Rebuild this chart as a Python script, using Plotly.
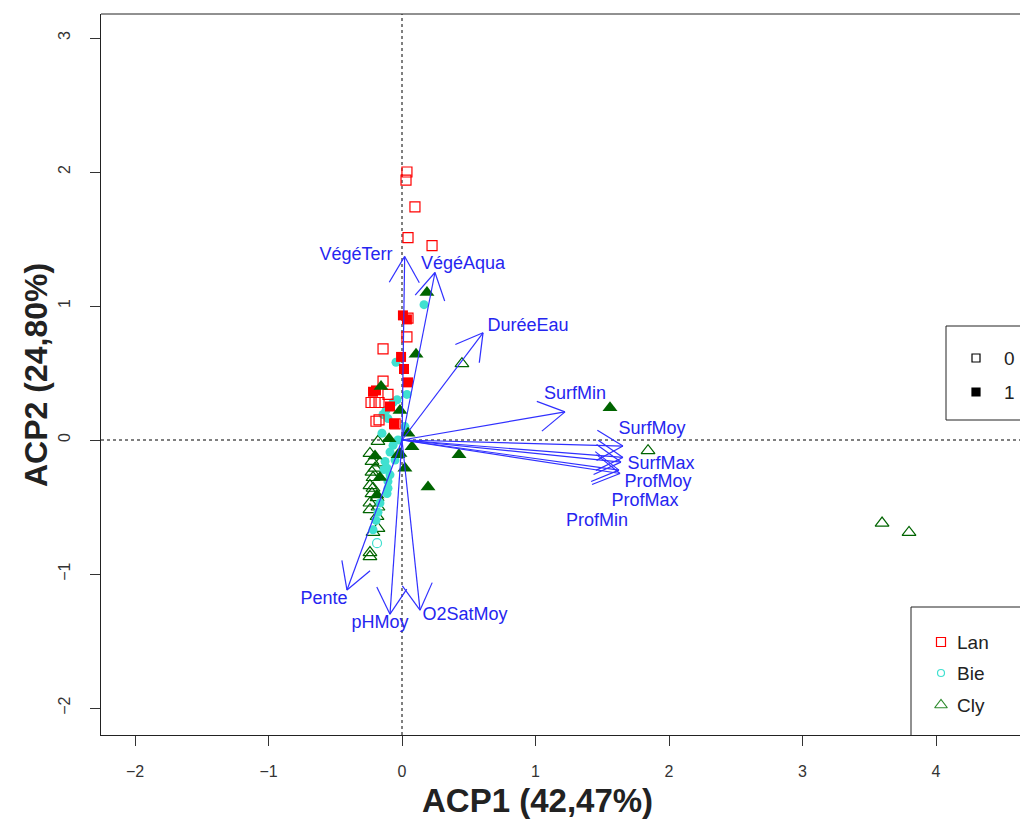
import numpy as np
import plotly.graph_objects as go

# ---------------- data (ACP scores) ----------------
lan_open_x = [0.037, 0.030, 0.097, 0.045, 0.225, 0.045, 0.037, -0.142, -0.142, -0.105,
              -0.232, -0.202, -0.172, -0.195, -0.172, -0.052]
lan_open_y = [2.00, 1.94, 1.74, 1.51, 1.45, 0.91, 0.77, 0.68, 0.44, 0.34,
              0.28, 0.28, 0.28, 0.14, 0.15, 0.12]
lan_fill_x = [0.007, 0.037, -0.007, 0.015, 0.045, -0.217, -0.195, -0.090, -0.060]
lan_fill_y = [0.93, 0.90, 0.62, 0.53, 0.43, 0.36, 0.37, 0.25, 0.12]

bie_fill_x = [0.165, -0.045, 0.037, -0.037, -0.067, -0.120, -0.142, -0.105, 0.022, -0.150,
              -0.090, -0.067, -0.127, -0.112, -0.090, -0.105, -0.105, -0.112, -0.165, -0.180,
              -0.195, -0.217, -0.052, -0.030, -0.135]
bie_fill_y = [1.01, 0.58, 0.34, 0.30, 0.28, 0.22, 0.19, 0.16, 0.10, 0.05,
              -0.09, -0.04, -0.16, -0.21, -0.26, -0.31, -0.36, -0.40, -0.47, -0.54,
              -0.60, -0.67, -0.15, 0.00, -0.22]
bie_open_x = [-0.187]
bie_open_y = [-0.77]

cly_fill_x = [0.187, 0.105, -0.157, -0.015, 0.045, -0.097, 0.075, -0.015, -0.202, 0.022,
              0.195, -0.165, -0.187, 1.558, 0.427, -0.030]
cly_fill_y = [1.10, 0.64, 0.40, 0.22, 0.05, 0.01, -0.05, -0.10, -0.12, -0.21,
              -0.35, -0.28, -0.41, 0.24, -0.11, -0.11]
cly_open_x = [0.449, 1.843, 3.596, 3.798, -0.180, -0.240, -0.225, -0.202, -0.225, -0.217,
              -0.240, -0.217, -0.225, -0.187, -0.240, -0.180, -0.240, -0.187, -0.180, -0.217,
              -0.240, -0.240, -0.165]
cly_open_y = [0.57, -0.08, -0.62, -0.69, -0.01, -0.10, -0.16, -0.21, -0.24, -0.28,
              -0.34, -0.36, -0.40, -0.43, -0.47, -0.50, -0.52, -0.57, -0.66, -0.69,
              -0.84, -0.87, -0.17]

# variables (loadings, arrow tips) and label positions
var_names = ["VégéTerr", "VégéAqua", "DuréeEau", "SurfMin", "SurfMoy", "SurfMax",
             "ProfMoy", "ProfMax", "ProfMin", "Pente", "pHMoy", "O2SatMoy"]
var_x = [0.020, 0.247, 0.607, 1.221, 1.655, 1.655, 1.640, 1.633, 1.625, -0.412, -0.090, 0.135]
var_y = [1.370, 1.250, 0.800, 0.210, -0.045, -0.130, -0.165, -0.250, -0.225, -1.120, -1.300, -1.270]
lab_x = [-0.345, 0.457, 0.944, 1.296, 1.873, 1.940, 1.918, 1.820, 1.461, -0.584, -0.165, 0.472]
lab_y = [1.38, 1.31, 0.85, 0.34, 0.075, -0.18, -0.32, -0.46, -0.61, -1.19, -1.37, -1.31]

x_ticks = [-2, -1, 0, 1, 2, 3, 4]
y_ticks = [-2, -1, 0, 1, 2, 3]
x_title = "ACP1 (42,47%)"
y_title = "ACP2 (24,80%)"
group_labels = ["Lan", "Bie", "Cly"]
fill_labels = ["0", "1"]

# ---------------- styles ----------------
RED = "#FF0000"
CYAN = "#40E0D0"
GREEN = "#006400"
BLUE = "#3030FF"
FONT = "Liberation Sans, Arial, sans-serif"

OFF = 8                      # page body margin
WIN_W, WIN_H = 1028, 820
PL, PT, PB = 101, 14, 735    # plot area edges in page pixels
W, H = WIN_W - OFF, WIN_H - OFF
x0_px, xunit = 402.0, 133.5
y0_px, yunit = 440.0, 134.0
x_range = [(PL - x0_px) / xunit, (WIN_W - x0_px) / xunit]
y_range = [(y0_px - PB) / yunit, (y0_px - PT) / yunit]

def px2paper(px, py):
    return (px - PL) / (WIN_W - PL), (PB - py) / (PB - PT)

fig = go.Figure()

# legend boxes (drawn below traces, page-pixel overlay axes)
def leg_box(x0, y0, y1):
    fig.add_shape(type="rect", xref="x2", yref="y2", x0=x0, x1=WIN_W + 20, y0=y0, y1=y1,
                  line=dict(color="#222", width=1), fillcolor="white", layer="below")

leg_box(946, 326, 420)
leg_box(911, 607, 736)

def pts(x, y, symbol, color, size, lw=1.2):
    fig.add_trace(go.Scatter(
        x=x, y=y, mode="markers", showlegend=False, hoverinfo="skip",
        marker=dict(symbol=symbol, size=size, color=color,
                    line=dict(color=color, width=lw))))

pts(cly_open_x, cly_open_y, "triangle-up-open", GREEN, 12)
pts(bie_fill_x, bie_fill_y, "circle", CYAN, 9, 0)
pts(bie_open_x, bie_open_y, "circle-open", CYAN, 9)
pts(lan_open_x, lan_open_y, "square-open", RED, 10)
pts(lan_fill_x, lan_fill_y, "square", RED, 10, 0)
pts(cly_fill_x, cly_fill_y, "triangle-up", GREEN, 13, 0)

# arrows: shaft + open V head
ax_, ay_ = [], []
head_len, ang = 0.225, np.deg2rad(30)
for tx, ty in zip(var_x, var_y):
    ax_ += [0, tx, None]
    ay_ += [0, ty, None]
    th = np.arctan2(ty, tx)
    for s in (1, -1):
        ax_ += [tx, tx - head_len * np.cos(th + s * ang), None]
        ay_ += [ty, ty - head_len * np.sin(th + s * ang), None]
fig.add_trace(go.Scatter(x=ax_, y=ay_, mode="lines", showlegend=False, hoverinfo="skip",
                         line=dict(color=BLUE, width=1.2)))
fig.add_trace(go.Scatter(x=lab_x, y=lab_y, mode="text", text=var_names, showlegend=False,
                         hoverinfo="skip",
                         textfont=dict(family=FONT, size=18, color="#2525F0")))

# dotted reference lines
fig.add_shape(type="line", xref="x", yref="paper", x0=0, x1=0, y0=0, y1=1,
              line=dict(color="black", width=1, dash="dot"), layer="below")
fig.add_shape(type="line", xref="paper", yref="y", x0=0, x1=1.05, y0=0, y1=0,
              line=dict(color="black", width=1, dash="dot"), layer="below")
# top border
fig.add_shape(type="line", xref="paper", yref="paper", x0=0, x1=1.05, y0=1, y1=1,
              line=dict(color="#222", width=1))

# legend symbols and labels
leg_mx = [976, 976, 941, 941, 941]
leg_my = [358, 392, 642, 673, 705]
leg_sym = ["square-open", "square", "square-open", "circle-open", "triangle-up-open"]
leg_col = ["black", "black", RED, CYAN, "#2E8B2E"]
leg_size = [8, 8, 9, 7, 11]
for mx, my, sy, c, sz in zip(leg_mx, leg_my, leg_sym, leg_col, leg_size):
    fig.add_trace(go.Scatter(x=[mx], y=[my], xaxis="x2", yaxis="y2", mode="markers",
                             showlegend=False, hoverinfo="skip",
                             marker=dict(symbol=sy, size=sz, color=c,
                                         line=dict(color=c, width=1.2))))
leg_txt = fill_labels + group_labels
leg_tx = [1002, 1002, 955, 955, 955]
for t, tx, ty in zip(leg_txt, leg_tx, leg_my):
    fig.add_annotation(x=tx, y=ty, xref="x2", yref="y2", text=t, showarrow=False,
                       xanchor="left", yanchor="middle",
                       font=dict(family=FONT, size=19, color="#222"))

# axis titles
tx, ty = px2paper(537, 800)
fig.add_annotation(x=tx, y=ty, xref="paper", yref="paper", text="<b>" + x_title + "</b>",
                   showarrow=False, xanchor="center", yanchor="middle",
                   font=dict(family=FONT, size=33, color="#222"))
tx, ty = px2paper(36, 375)
fig.add_annotation(x=tx, y=ty, xref="paper", yref="paper", text="<b>" + y_title + "</b>",
                   showarrow=False, textangle=-90, xanchor="center", yanchor="middle",
                   font=dict(family=FONT, size=32, color="#222"))

fig.update_layout(
    width=W, height=H,
    margin=dict(l=PL - OFF, r=0, t=PT - OFF, b=H - (PB - OFF)),
    paper_bgcolor="white", plot_bgcolor="white",
    showlegend=False,
    xaxis=dict(range=x_range, tickvals=x_ticks, ticks="outside", ticklen=10,
               tickcolor="#333", showline=True, linecolor="#222", linewidth=1,
               showgrid=False, zeroline=False, ticklabelstandoff=12,
               tickfont=dict(family=FONT, size=16, color="#333")),
    yaxis=dict(range=y_range, tickvals=y_ticks, ticks="outside", ticklen=10,
               tickcolor="#333", showline=True, linecolor="#222", linewidth=1,
               showgrid=False, zeroline=False, tickangle=-90, ticklabelstandoff=14,
               tickfont=dict(family=FONT, size=16, color="#333")),
    xaxis2=dict(range=[PL, WIN_W], overlaying="x", visible=False, fixedrange=True),
    yaxis2=dict(range=[PB, PT], overlaying="y", visible=False, fixedrange=True),
)

fig.write_html("out.html")
